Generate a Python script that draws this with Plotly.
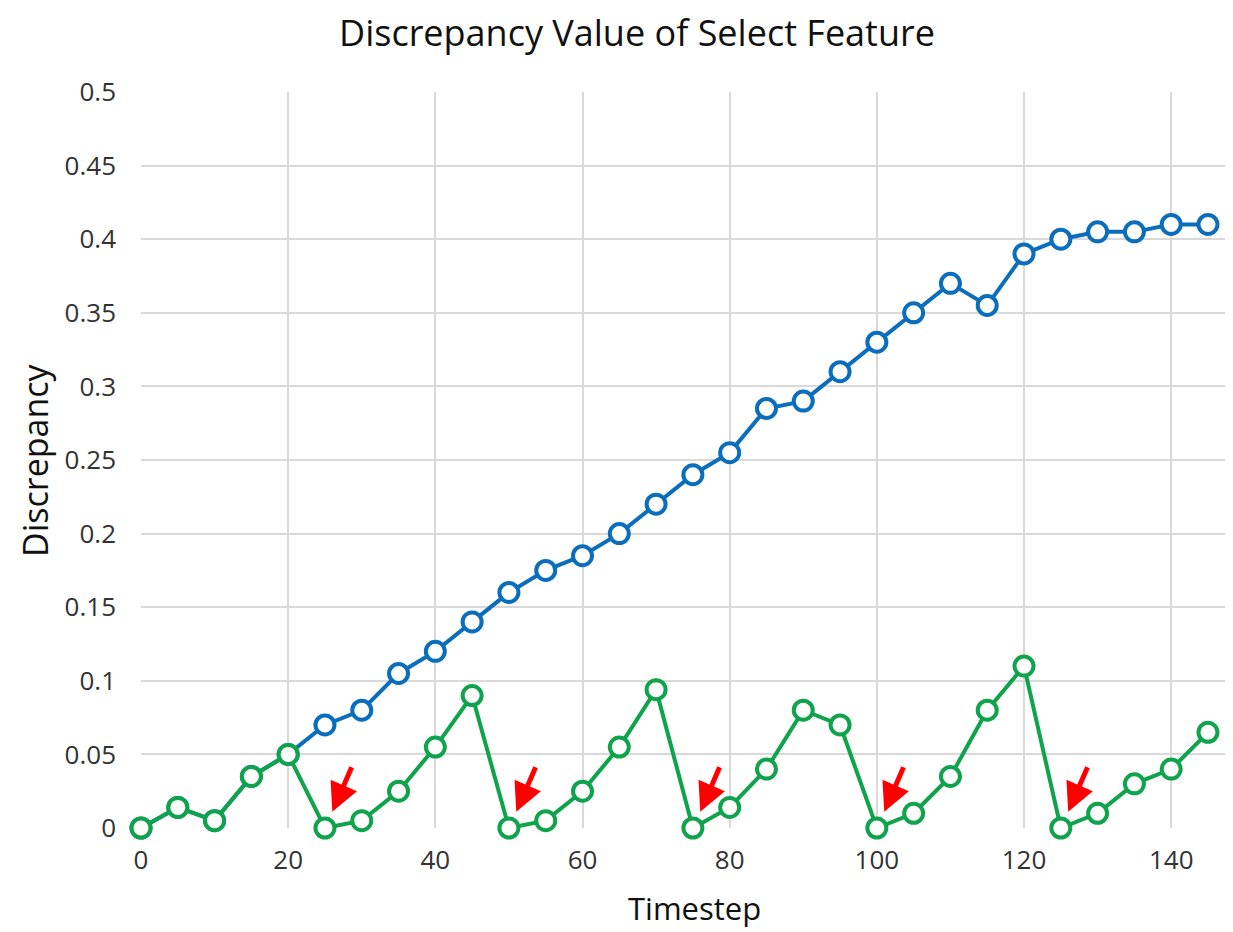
import plotly.graph_objs as go

# Chart data
timesteps = list(range(0, 150, 5))
blue_values = [0, 0.014, 0.005, 0.035, 0.05, 0.07, 0.08, 0.105, 0.12, 0.14,
               0.16, 0.175, 0.185, 0.2, 0.22, 0.24, 0.255, 0.285, 0.29, 0.31,
               0.33, 0.35, 0.37, 0.355, 0.39, 0.4, 0.405, 0.405, 0.41, 0.41]
green_values = [0, 0.014, 0.005, 0.035, 0.05, 0, 0.005, 0.025, 0.055, 0.09,
                0, 0.005, 0.025, 0.055, 0.094, 0, 0.014, 0.04, 0.08, 0.07,
                0, 0.01, 0.035, 0.08, 0.11, 0, 0.01, 0.03, 0.04, 0.065]
reset_points = [25, 50, 75, 100, 125]

x_ticks = [0, 20, 40, 60, 80, 100, 120, 140]
y_ticks = [0, 0.05, 0.1, 0.15, 0.2, 0.25, 0.3, 0.35, 0.4, 0.45, 0.5]
y_ticktext = ['0', '0.05', '0.1', '0.15', '0.2', '0.25', '0.3', '0.35', '0.4', '0.45', '0.5']

BLUE = '#0A6EBD'
GREEN = '#0FA34C'
FONT = 'Open Sans, Noto Sans, sans-serif'

# page body has an 8px margin, so the figure is 8px smaller than the window
W, H = 1225, 924
L, T, B = 133, 84, 104


def series(y_values, color):
    return go.Scatter(
        x=timesteps, y=y_values, mode='lines+markers',
        line=dict(color=color, width=4),
        marker=dict(symbol='circle', size=19, color='white',
                    line=dict(color=color, width=4)),
        cliponaxis=False, showlegend=False
    )


traces = [series(blue_values, BLUE), series(green_values, GREEN)]

# Red arrows pointing at the reset points
arrows = [
    dict(x=t + 1.0, y=0.011, xref='x', yref='y', ax=20, ay=-46,
         showarrow=True, arrowhead=2, arrowsize=1.15, arrowwidth=5,
         arrowcolor='#FF0000', text='')
    for t in reset_points
]

plot_w = W - L
plot_h = H - T - B
labels = [
    dict(text='Discrepancy', x=(27 - L) / plot_w, y=0.5, xref='paper', yref='paper',
         xanchor='center', yanchor='middle', textangle=-90, showarrow=False,
         font=dict(family=FONT, size=34, color='#111111')),
    dict(text='Timestep', x=(686 - L) / plot_w, y=(H - B - 900) / plot_h,
         xref='paper', yref='paper', xanchor='center', yanchor='middle',
         showarrow=False, font=dict(family=FONT, size=31, color='#111111')),
]

layout = go.Layout(
    width=W, height=H,
    paper_bgcolor='white', plot_bgcolor='white',
    title=dict(text='Discrepancy Value of Select Feature',
               x=629 / W, xref='container', xanchor='center',
               y=1 - 25 / H, yref='container', yanchor='middle',
               font=dict(family=FONT, size=36, color='#111111')),
    xaxis=dict(range=[0, 148.4], tickvals=x_ticks, showgrid=True,
               gridcolor='#D9D9D9', gridwidth=2, zeroline=False,
               showline=False, ticks='', ticklabelstandoff=14,
               tickfont=dict(family=FONT, size=26, color='#333333')),
    yaxis=dict(range=[0, 0.5], tickvals=y_ticks, ticktext=y_ticktext,
               showgrid=True, gridcolor='#D9D9D9', gridwidth=2,
               zeroline=False, showline=False, ticks='',
               ticklabelstandoff=24,
               tickfont=dict(family=FONT, size=26, color='#333333')),
    annotations=arrows + labels,
    margin=dict(l=L, r=0, t=T, b=B)
)

fig = go.Figure(data=traces, layout=layout)
fig.write_html("out.html")
